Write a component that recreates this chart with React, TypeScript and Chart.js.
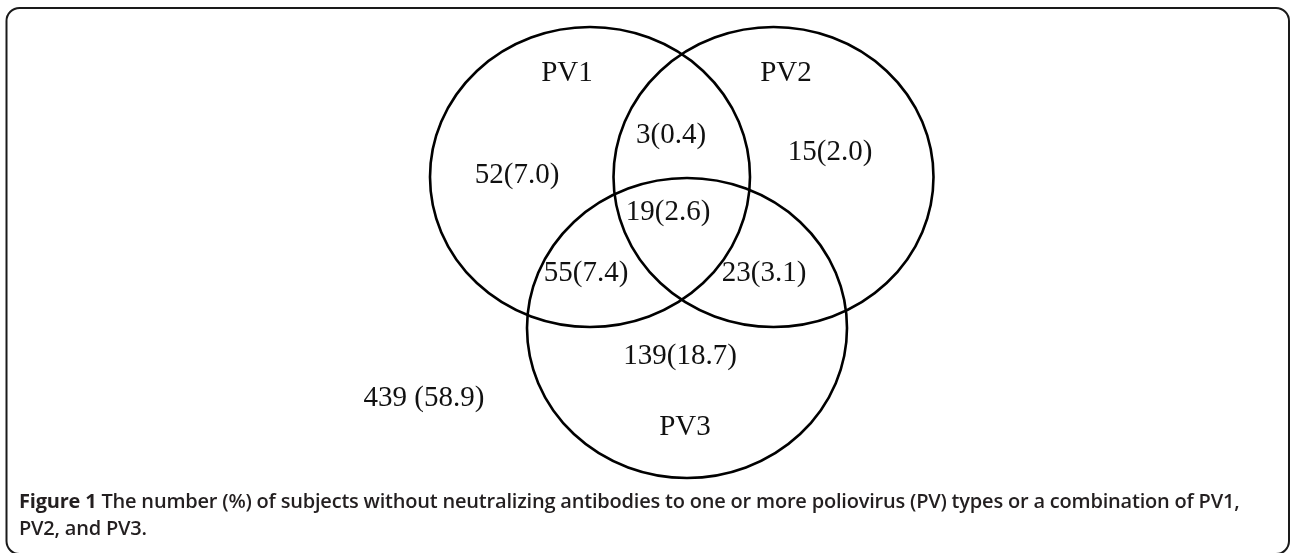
import React, { useEffect, useRef } from 'react';
import { Chart, registerables } from 'chart.js';
Chart.register(...registerables);

// ---- data ----
const SET_NAMES = ['PV1', 'PV2', 'PV3'];
const REGION_NAMES = ['PV1 only', 'PV2 only', 'PV3 only', 'PV1∩PV2', 'PV1∩PV3', 'PV2∩PV3', 'PV1∩PV2∩PV3', 'None'];
const COUNTS = [52, 15, 139, 3, 55, 23, 19, 439];
const PERCENTS = [7.0, 2.0, 18.7, 0.4, 7.4, 3.1, 2.6, 58.9];

// ---- layout (in scale units) ----
const SET_CX = [590, 773.5, 687];
const SET_CY = [177, 177, 328];
const SET_RX = [160, 160, 160];
const SET_RY = [150, 150, 150];
const SET_LABEL_X = [567, 786, 685];
const SET_LABEL_Y = [73, 73, 427];
const REGION_X = [517, 830, 680, 671, 586, 764, 668, 424];
const REGION_Y = [175, 152, 356, 135, 273, 273, 212, 398];

const W = 1290;
const H = 553;

const regionText = (i: number) =>
  REGION_NAMES[i] === 'None'
    ? `${COUNTS[i]} (${PERCENTS[i].toFixed(1)})`
    : `${COUNTS[i]}(${PERCENTS[i].toFixed(1)})`;

const vennPlugin = {
  id: 'venn',
  beforeDraw(chart: any) {
    const { ctx } = chart;
    ctx.save();
    ctx.fillStyle = '#ffffff';
    ctx.fillRect(0, 0, chart.width, chart.height);
    // frame
    ctx.strokeStyle = '#1a1a1a';
    ctx.lineWidth = 2;
    const x0 = 6.5, y0 = 8, x1 = 1289, y1 = 554, r = 13;
    ctx.beginPath();
    ctx.moveTo(x0 + r, y0);
    ctx.lineTo(x1 - r, y0);
    ctx.arcTo(x1, y0, x1, y0 + r, r);
    ctx.lineTo(x1, y1 - r);
    ctx.arcTo(x1, y1, x1 - r, y1, r);
    ctx.lineTo(x0 + r, y1);
    ctx.arcTo(x0, y1, x0, y1 - r, r);
    ctx.lineTo(x0, y0 + r);
    ctx.arcTo(x0, y0, x0 + r, y0, r);
    ctx.stroke();
    ctx.restore();
  },
  afterDatasetsDraw(chart: any) {
    const { ctx } = chart;
    const xs = chart.scales.x;
    const ys = chart.scales.y;
    ctx.save();
    ctx.strokeStyle = '#000';
    ctx.lineWidth = 2.6;
    for (let i = 0; i < SET_NAMES.length; i++) {
      const cx = xs.getPixelForValue(SET_CX[i]);
      const cy = ys.getPixelForValue(SET_CY[i]);
      const rx = Math.abs(xs.getPixelForValue(SET_CX[i] + SET_RX[i]) - cx);
      const ry = Math.abs(ys.getPixelForValue(SET_CY[i] + SET_RY[i]) - cy);
      ctx.beginPath();
      ctx.ellipse(cx, cy, rx, ry, 0, 0, Math.PI * 2);
      ctx.stroke();
    }
    ctx.fillStyle = '#111';
    ctx.textAlign = 'center';
    ctx.textBaseline = 'middle';
    ctx.font = '29px "Liberation Serif", "Times New Roman", serif';
    for (let i = 0; i < SET_NAMES.length; i++) {
      ctx.fillText(SET_NAMES[i], xs.getPixelForValue(SET_LABEL_X[i]), ys.getPixelForValue(SET_LABEL_Y[i]));
    }
    for (let i = 0; i < COUNTS.length; i++) {
      ctx.fillText(regionText(i), xs.getPixelForValue(REGION_X[i]), ys.getPixelForValue(REGION_Y[i]));
    }
    ctx.restore();
  },
};

export default function App() {
  const ref = useRef<HTMLCanvasElement>(null);
  useEffect(() => {
    document.body.style.margin = '0';
    const chart = new Chart(ref.current as HTMLCanvasElement, {
      type: 'scatter',
      data: {
        datasets: [
          {
            label: 'Regions',
            data: REGION_X.map((x, i) => ({ x, y: REGION_Y[i] })),
            pointRadius: 0,
            pointHoverRadius: 0,
          },
        ],
      },
      options: {
        responsive: false,
        animation: false,
        devicePixelRatio: 1,
        layout: { padding: 0 },
        plugins: { legend: { display: false }, tooltip: { enabled: false } },
        scales: {
          x: { type: 'linear', min: 0, max: W, display: false },
          y: { type: 'linear', min: 0, max: H, reverse: true, display: false },
        },
      },
      plugins: [vennPlugin],
    });
    return () => chart.destroy();
  }, []);
  return (
    <div style={{ position: 'relative', width: W, height: H, background: '#fff', overflow: 'hidden' }}>
      <canvas ref={ref} width={W} height={H} style={{ position: 'absolute', left: 0, top: 0, width: W, height: H }} />
      <div
        style={{
          position: 'absolute',
          left: 19,
          top: 487,
          fontFamily: '"Open Sans", "Noto Sans", sans-serif',
          fontWeight: 600,
          fontSize: 20,
          lineHeight: '27px',
          color: '#231f20',
          whiteSpace: 'nowrap',
          letterSpacing: '-0.2px',
        }}
      >
        <span style={{ fontWeight: 700 }}>Figure 1</span> The number (%) of subjects without neutralizing antibodies to one or more poliovirus (PV) types or a combination of PV1,
        <br />
        PV2, and PV3.
      </div>
    </div>
  );
}
